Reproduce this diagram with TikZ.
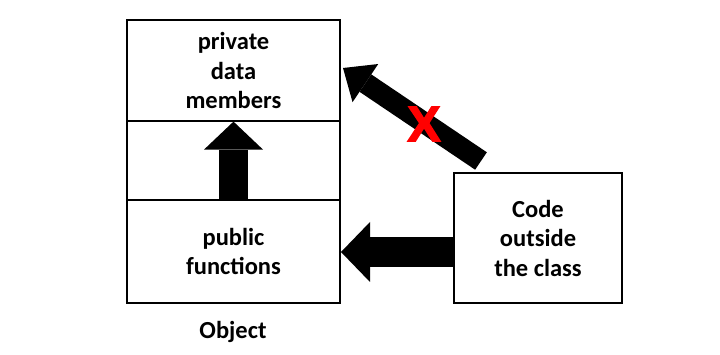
\documentclass[tikz,border=0pt]{standalone}
\usepackage{fontspec}
\setmainfont{Carlito}
\newfontfamily\crossfont[FakeBold=2.5]{Liberation Sans Bold}
\usetikzlibrary{arrows.meta}
\tikzset{
  box/.style={draw, inner sep=0pt, align=center, font=\fontsize{24.5}{29.5}\selectfont\bfseries},
  blockarrow/.style n args={3}{draw=black, line width=#1, -{Triangle[width=#2,length=#3,line width=0pt]}},
  lbl/.style={inner sep=0pt, font=\fontsize{24.5}{29.5}\selectfont\bfseries}
}
\begin{document}
\begin{tikzpicture}[x=1pt,y=-1pt]
\useasboundingbox (0,0) rectangle (720,355);
\node[box, minimum width=213pt, minimum height=283pt, line width=1.2pt] (obj) at (233.5,161.5) {};
\node[box, minimum width=213pt, minimum height=101pt, line width=1.2pt] (priv) at (233.5,70.5) {private\\data\\members};
\node[box, minimum width=213pt, minimum height=103pt, line width=2pt] (pub) at (233.5,251.5) {public\\functions};
\node[box, minimum width=168pt, minimum height=130pt, line width=2pt] (code) at (538,238) {Code\\outside\\the class};
\node[lbl] (objlbl) at (233,332) {Object};
\coordinate (hy) at (0,252);
\coordinate (dtail) at (481,161);
\coordinate (dtip) at (343,68);
\draw[blockarrow={29pt}{59pt}{28pt}] (pub.north) -- (priv.south);
\draw[blockarrow={30pt}{60pt}{29pt}] (code.west |- hy) -- (pub.east |- hy);
\draw[blockarrow={21pt}{46pt}{27pt}] (dtail) -- (dtip);
\node[text=red, inner sep=0pt, font=\crossfont\fontsize{50}{50}\selectfont] (cross) at (424,124) {X};
\end{tikzpicture}
\end{document}
